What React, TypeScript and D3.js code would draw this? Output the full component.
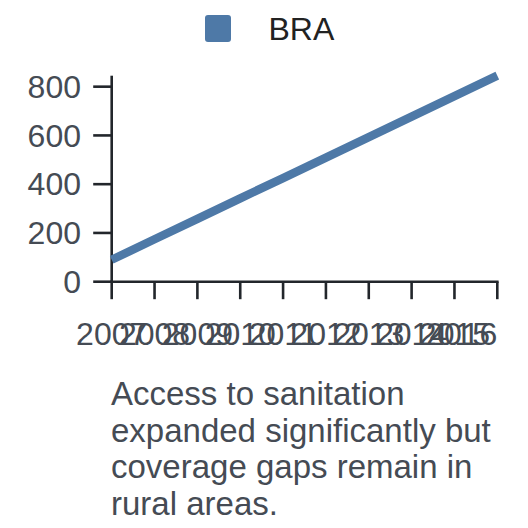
import React from "react";
import * as d3 from "d3";

const years: number[] = [2007, 2008, 2009, 2010, 2011, 2012, 2013, 2014, 2015, 2016];
const braValues: number[] = [90, 174, 258, 342, 425, 509, 593, 677, 761, 845];
const yTicks: number[] = [0, 200, 400, 600, 800];
const seriesName = "BRA";
const captionLines: string[] = [
  "Access to sanitation",
  "expanded significantly but",
  "coverage gaps remain in",
  "rural areas.",
];

const W = 528;
const H = 528;
const left = 111.7;
const right = 497.3;
const bottom = 281.7;
const top = 75.7;
const font = "'Liberation Sans', Arial, sans-serif";
const textColor = "#454b54";
const axisColor = "#22262b";
const lineColor = "#4e79a7";

export default function App() {
  const x = d3.scaleLinear().domain([years[0], years[years.length - 1]]).range([left, right]);
  const y = d3.scaleLinear().domain([0, d3.max(braValues) as number]).range([bottom, top]);
  const line = d3
    .line<number>()
    .x((_, i) => x(years[i]))
    .y((d) => y(d));

  return (
    <svg
      width={W}
      height={H}
      style={{ position: "absolute", left: 0, top: 0, background: "#fff" }}
      fontFamily={font}
    >
      {/* legend */}
      <rect x={205} y={15} width={26} height={27} rx={3} fill={lineColor} />
      <text x={268.5} y={40} fontSize={32} fill="#222">
        {seriesName}
      </text>

      {/* y axis */}
      <line x1={left} x2={left} y1={y.range()[1]} y2={bottom} stroke={axisColor} strokeWidth={2.6} />
      {yTicks.map((t) => (
        <g key={t}>
          <line x1={left - 18.5} x2={left} y1={y(t)} y2={y(t)} stroke={axisColor} strokeWidth={2.6} />
          <text x={81} y={y(t)} dy="0.35em" textAnchor="end" fontSize={32} fill={textColor}>
            {t}
          </text>
        </g>
      ))}

      {/* x axis */}
      <line x1={left - 1.3} x2={right + 1.3} y1={bottom} y2={bottom} stroke={axisColor} strokeWidth={2.6} />
      {years.map((yr, i) => (
        <g key={yr}>
          <line x1={x(yr)} x2={x(yr)} y1={bottom} y2={bottom + 17.5} stroke={axisColor} strokeWidth={2.6} />
          <text
            x={x(yr)}
            y={345}
            textAnchor={i === years.length - 1 ? "end" : "middle"}
            fontSize={32}
            fill={textColor}
          >
            {yr}
          </text>
        </g>
      ))}

      {/* series */}
      <path d={line(braValues) || ""} fill="none" stroke={lineColor} strokeWidth={8.5} />

      {/* caption */}
      {captionLines.map((l, i) => (
        <text key={i} x={111} y={405 + i * 36.5} fontSize={33} fill={textColor}>
          {l}
        </text>
      ))}
    </svg>
  );
}
